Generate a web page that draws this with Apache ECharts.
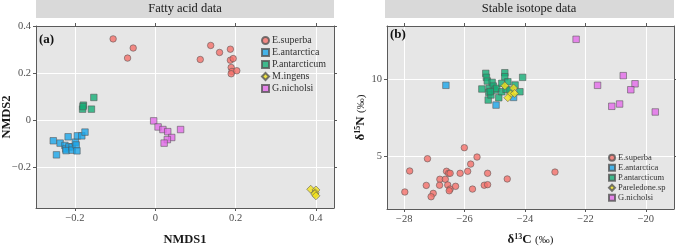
<!DOCTYPE html>
<html><head><meta charset="utf-8">
<script src="https://cdn.jsdelivr.net/npm/echarts@6/dist/echarts.min.js"></script>
<style>html,body{margin:0;padding:0;background:#fff}#c{width:676px;height:246px}</style>
</head><body><div id="c"></div>
<script>
// ---- Panel (a): Fatty acid data (NMDS1, NMDS2)
const namesA = ['E.superba','E.antarctica','P.antarcticum','M.ingens','G.nicholsi'];
const esuperbaA = [[-0.105,0.347],[-0.055,0.308],[-0.069,0.265],[0.112,0.259],[0.138,0.319],[0.160,0.289],[0.187,0.303],[0.187,0.256],[0.194,0.263],[0.189,0.225],[0.191,0.208],[0.189,0.198],[0.203,0.211]];
const eantarcticaA = [[-0.254,-0.088],[-0.246,-0.148],[-0.237,-0.098],[-0.225,-0.108],[-0.223,-0.123],[-0.217,-0.071],[-0.215,-0.114],[-0.222,-0.130],[-0.207,-0.114],[-0.207,-0.128],[-0.199,-0.094],[-0.197,-0.106],[-0.194,-0.067],[-0.195,-0.131],[-0.183,-0.067],[-0.175,-0.051]];
const pantarcticumA = [[-0.179,0.064],[-0.181,0.047],[-0.180,0.058],[-0.159,0.047],[-0.153,0.097]];
const mingensA = [[0.387,-0.295],[0.400,-0.298],[0.398,-0.310],[0.397,-0.315],[0.400,-0.323]];
const gnicholsiA = [[-0.004,-0.003],[0.007,-0.029],[0.019,-0.040],[0.031,-0.049],[0.063,-0.040],[0.041,-0.074],[0.030,-0.083],[0.022,-0.098]];
const ticksAx = [-0.2,0,0.2,0.4];
const ticksAy = [-0.2,0,0.2,0.4];

// ---- Panel (b): Stable isotope data (d13C, d15N)
const namesB = ['E.superba','E.antarctica','P.antarcticum','Pareledone.sp','G.nicholsi'];
const esuperbaB = [[-27.98,2.65],[-27.82,4.02],[-27.23,4.82],[-27.27,3.08],[-27.04,2.56],[-27.11,2.34],[-26.82,3.48],[-26.83,3.09],[-26.64,3.48],[-26.60,4.00],[-26.53,3.87],[-26.56,3.11],[-26.48,2.84],[-26.51,2.73],[-26.48,3.87],[-26.30,3.02],[-26.15,3.87],[-26.01,5.54],[-25.90,4.00],[-25.80,4.47],[-25.74,2.84],[-25.59,4.93],[-25.35,3.09],[-25.24,3.87],[-25.24,3.13],[-24.59,3.50],[-23.01,3.95]];
const eantarcticaB = [[-26.62,9.61],[-24.96,8.32],[-24.38,8.82]];
const pantarcticumB = [[-25.30,10.39],[-25.28,10.13],[-25.25,9.89],[-25.09,9.80],[-25.43,9.37],[-25.19,9.41],[-25.20,9.15],[-25.22,8.65],[-25.13,8.98],[-25.05,9.56],[-25.00,9.30],[-24.87,8.80],[-24.94,9.41],[-24.77,9.74],[-24.67,10.43],[-24.67,10.17],[-24.57,9.84],[-24.77,9.19],[-24.63,9.35],[-24.33,9.63],[-24.17,9.19],[-24.08,10.13],[-24.50,9.30],[-25.15,9.20]];
const pareledoneB = [[-24.67,9.58],[-24.38,9.43],[-24.48,9.04],[-24.35,9.08],[-24.57,8.80]];
const gnicholsiB = [[-22.31,12.61],[-21.60,9.61],[-20.75,10.24],[-20.36,9.71],[-20.50,9.32],[-21.13,8.24],[-20.87,8.39],[-19.69,7.87]];
const ticksBx = [-28,-26,-24,-22,-20];
const ticksBy = [5,10];

const colors = ['#F5716A','#1BA6EA','#15AE77','#F3E21D','#E46CEA'];
const symbols = ['circle','rect','rect','diamond','rect'];
const FONT = 'Liberation Serif';
const minus = v => String(v).replace('-', '\u2212');

function axisCommon(ticks, showLabel, pos) {
  return {
    axisLine: {show: true, onZero: false, lineStyle: {color: '#5a5a5a', width: 1}},
    axisTick: {show: true, length: 3, inside: false, customValues: ticks, lineStyle: {color: '#5a5a5a'}},
    axisLabel: {show: showLabel, customValues: ticks, formatter: minus, color: '#4d4d4d', fontFamily: FONT, fontSize: 10.5, margin: 5},
    splitLine: {show: pos, lineStyle: {color: '#ffffff', width: 1}}
  };
}

function mk(name, data, i, xi) {
  return {
    type: 'scatter', name: name, data: data, xAxisIndex: xi, yAxisIndex: xi,
    symbol: symbols[i], symbolSize: symbols[i] === 'diamond' ? 8 : 6.5,
    itemStyle: {color: colors[i], borderColor: '#555', borderWidth: 0.7},
    emphasis: {disabled: true}
  };
}

const gridA = {left: 36, top: 26, width: 298, height: 182};
const gridB = {left: 387, top: 26, width: 287, height: 183};

const option = {
  animation: false,
  backgroundColor: '#ffffff',
  grid: [
    Object.assign({backgroundColor: '#e6e6e6', show: true, borderWidth: 0, containLabel: false, outerBoundsMode: 'none'}, gridA),
    Object.assign({backgroundColor: '#e6e6e6', show: true, borderWidth: 0, containLabel: false, outerBoundsMode: 'none'}, gridB)
  ],
  xAxis: [
    Object.assign({type: 'value', gridIndex: 0, min: -0.297, max: 0.445, position: 'bottom',
      name: 'NMDS1', nameLocation: 'middle', nameGap: 25,
      nameTextStyle: {fontFamily: FONT, fontWeight: 'bold', fontSize: 12.5, color: '#1a1a1a'}}, axisCommon(ticksAx, true, true)),
    Object.assign({type: 'value', gridIndex: 1, min: -28.57, max: -19.07, position: 'bottom',
      name: '{b|δ}{s|13}{b|C} {n|(‰)}', nameLocation: 'middle', nameGap: 24,
      nameTextStyle: {rich: {
        b: {fontFamily: FONT, fontWeight: 'bold', fontSize: 13, color: '#1a1a1a'},
        s: {fontFamily: FONT, fontWeight: 'bold', fontSize: 8, color: '#1a1a1a', verticalAlign: 'top', padding: [0,0,6,0]},
        n: {fontFamily: FONT, fontSize: 11, color: '#1a1a1a'}}}}, axisCommon(ticksBx, true, true)),
    Object.assign({type: 'value', gridIndex: 0, min: -0.297, max: 0.445, position: 'top'}, axisCommon(ticksAx, false, false)),
    Object.assign({type: 'value', gridIndex: 1, min: -28.57, max: -19.07, position: 'top'}, axisCommon(ticksBx, false, false))
  ],
  yAxis: [
    Object.assign({type: 'value', gridIndex: 0, min: -0.375, max: 0.402, position: 'left',
      name: 'NMDS2', nameLocation: 'middle', nameGap: 23, nameMoveOverlap: false,
      nameTextStyle: {fontFamily: FONT, fontWeight: 'bold', fontSize: 12.5, color: '#1a1a1a'}}, axisCommon(ticksAy, true, true)),
    Object.assign({type: 'value', gridIndex: 1, min: 1.54, max: 13.48, position: 'left',
      name: '{b|δ}{s|15}{b|N} {n|(‰)}', nameLocation: 'middle', nameGap: 19, nameMoveOverlap: false,
      nameTextStyle: {rich: {
        b: {fontFamily: FONT, fontWeight: 'bold', fontSize: 13, color: '#1a1a1a'},
        s: {fontFamily: FONT, fontWeight: 'bold', fontSize: 8, color: '#1a1a1a', verticalAlign: 'top', padding: [0,0,6,0]},
        n: {fontFamily: FONT, fontSize: 11, color: '#1a1a1a'}}}}, axisCommon(ticksBy, true, true)),
    Object.assign({type: 'value', gridIndex: 0, min: -0.375, max: 0.402, position: 'right'}, axisCommon(ticksAy, false, false)),
    Object.assign({type: 'value', gridIndex: 1, min: 1.54, max: 13.48, position: 'right'}, axisCommon(ticksBy, false, false))
  ],
  legend: [
    {data: namesA, orient: 'vertical', left: 256, top: 30, itemWidth: 7, itemHeight: 7, itemGap: 1,
     selectedMode: false, textStyle: {fontFamily: FONT, fontSize: 10, color: '#333', lineHeight: 11, padding: [0,0,0,-2]}},
    {data: namesB, orient: 'vertical', left: 603, top: 148, itemWidth: 6, itemHeight: 6, itemGap: 0.5,
     selectedMode: false, textStyle: {fontFamily: FONT, fontSize: 8.5, color: '#333', lineHeight: 9.5, padding: [0,0,0,-2]}}
  ],
  series: [
    mk('E.superba', esuperbaA, 0, 0), mk('E.antarctica', eantarcticaA, 1, 0), mk('P.antarcticum', pantarcticumA, 2, 0),
    mk('M.ingens', mingensA, 3, 0), mk('G.nicholsi', gnicholsiA, 4, 0),
    mk('E.superba', esuperbaB, 0, 1), mk('E.antarctica', eantarcticaB, 1, 1), mk('P.antarcticum', pantarcticumB, 2, 1),
    mk('Pareledone.sp', pareledoneB, 3, 1), mk('G.nicholsi', gnicholsiB, 4, 1)
  ],
  graphic: [
    {type: 'rect', shape: {x: 36, y: 0, width: 298, height: 18}, style: {fill: '#d9d9d9'}},
    {type: 'text', x: 185, y: 9, style: {text: 'Fatty acid data', align: 'center', verticalAlign: 'middle', font: '12.5px "Liberation Serif"', fill: '#1a1a1a'}},
    {type: 'rect', shape: {x: 385, y: 0, width: 289, height: 18}, style: {fill: '#d9d9d9'}},
    {type: 'text', x: 529, y: 9, style: {text: 'Stable isotope data', align: 'center', verticalAlign: 'middle', font: '12.5px "Liberation Serif"', fill: '#1a1a1a'}},
    {type: 'text', x: 39, y: 40, z: 10, style: {text: '(a)', verticalAlign: 'middle', font: 'bold 13px "Liberation Serif"', fill: '#111'}},
    {type: 'text', x: 390, y: 35, z: 10, style: {text: '(b)', verticalAlign: 'middle', font: 'bold 13px "Liberation Serif"', fill: '#111'}}
  ]
};
const chart = echarts.init(document.getElementById('c'), null, {renderer: 'canvas'});
chart.setOption(option);
</script></body></html>
